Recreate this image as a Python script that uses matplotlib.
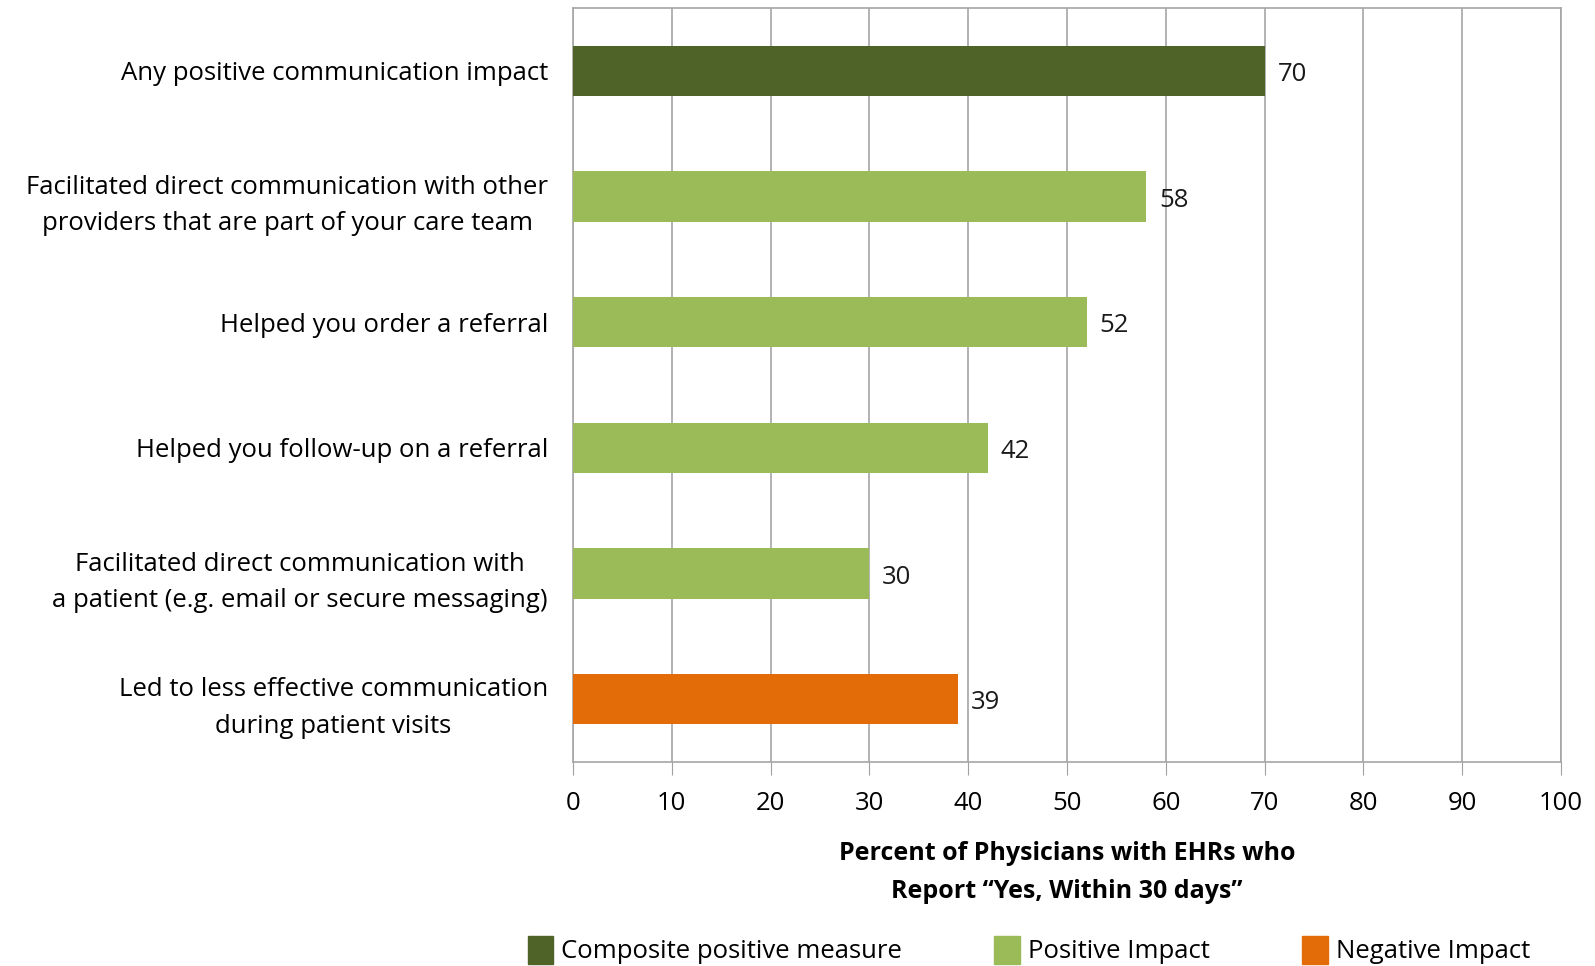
import numpy as np
import matplotlib.pyplot as plt
from matplotlib.patches import Patch

# 数据
categories = [
    'Any positive communication impact',
    'Facilitated direct communication with other\nproviders that are part of your care team',
    'Helped you order a referral',
    'Helped you follow-up on a referral',
    'Facilitated direct communication with\na patient (e.g. email or secure messaging)',
    'Led to less effective communication\nduring patient visits',
]
values = [70, 58, 52, 42, 30, 39]
groups = ['composite', 'positive', 'positive', 'positive', 'positive', 'negative']

colors = {'composite': '#4F6228', 'positive': '#9BBB59', 'negative': '#E36C09'}
legend_names = ['Composite positive measure', 'Positive Impact', 'Negative Impact']

plt.rcParams['font.family'] = ['Open Sans', 'DejaVu Sans']

fig = plt.figure(figsize=(15.95, 9.66), dpi=100)
ax = fig.add_axes([573 / 1595, 1 - 762 / 966, (1561 - 573) / 1595, (762 - 8) / 966])

y = np.arange(len(categories))
bar_colors = [colors[g] for g in groups]
ax.barh(y, values, height=0.4, color=bar_colors, zorder=3)
for yi, v in zip(y, values):
    ax.text(v + 1.3, yi + 0.03, str(v), va='center', ha='left', fontsize=18.5, color='#1a1a1a')

ax.set_xlim(0, 100)
ax.set_ylim(len(categories) - 0.5, -0.5)
ax.set_xticks(np.arange(0, 101, 10))
ax.set_yticks(y)
ax.set_yticklabels(categories, fontsize=18.5, linespacing=1.6, multialignment='center')
ax.tick_params(axis='y', length=0, pad=18)
ax.tick_params(axis='x', labelsize=18.5, length=9, color='#a0a0a0', pad=12)
ax.xaxis.grid(True, color='#a6a6a6', linewidth=1.2, zorder=0)
for s in ax.spines.values():
    s.set_color('#a6a6a6')
    s.set_linewidth(1.2)

ax.set_xlabel('Percent of Physicians with EHRs who\nReport \u201cYes, Within 30 days\u201d',
              fontsize=18, fontweight='bold', labelpad=18, linespacing=1.65)

handles = [Patch(color=colors[k], label=n) for k, n in zip(['composite', 'positive', 'negative'], legend_names)]
fig.legend(handles=handles, loc='lower center', bbox_to_anchor=(0.645, -0.022), ncol=3,
           frameon=False, fontsize=18.5, handlelength=1.0, handleheight=1.3,
           handletextpad=0.3, columnspacing=3.6)

fig.savefig('out.png', dpi=100)
